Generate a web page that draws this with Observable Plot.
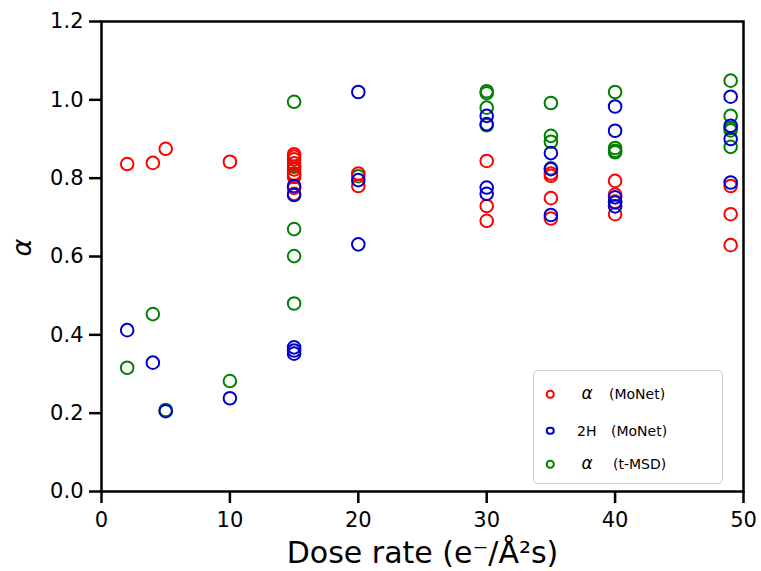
<!DOCTYPE html>
<html><head><meta charset="utf-8">
<script src="https://cdn.jsdelivr.net/npm/d3@7"></script>
<script src="https://cdn.jsdelivr.net/npm/@observablehq/plot@0.6"></script>
<style>
body{margin:0;background:#fff;}
#wrap{position:relative;width:761px;height:571px;font-family:"DejaVu Sans";}
.legend{position:absolute;left:533px;top:370px;width:190px;height:114px;border:1.5px solid #cccccc;border-radius:5px;background:rgba(255,255,255,0.8);box-sizing:border-box;}
.lg{position:absolute;white-space:nowrap;font-size:14px;line-height:1;transform:translate(0,-50%);color:#000;}
.ga{font-style:italic;font-size:17px;transform:translate(-50%,-55%);}
.mk{position:absolute;width:4.5px;height:4.5px;border-radius:50%;border:2px solid;transform:translate(-50%,-50%);}
</style></head>
<body><div id="wrap"></div>
<script>
const xTicks = [0, 10, 20, 30, 40, 50];
const yTicks = [0, 0.2, 0.4, 0.6, 0.8, 1.0, 1.2];
const xLabel = "Dose rate (e\u207B/\u00C5\u00B2s)";
const yLabel = "\u03B1";
const seriesNames = ["\u03B1 (MoNet)", "2H (MoNet)", "\u03B1 (t-MSD)"];
const seriesColors = ["#ff0000", "#0000cd", "#008000"];

const redDose  = [2,4,5,10,15,15,15,15,15,15,15,15,15,20,20,30,30,30,35,35,35,35,40,40,40,40,49,49,49];
const redAlpha = [0.836,0.839,0.875,0.842, 0.861,0.855,0.848,0.838,0.822,0.812,0.803,0.775,0.760, 0.812,0.780, 0.844,0.729,0.691, 0.812,0.806,0.749,0.697, 0.793,0.758,0.740,0.708, 0.780,0.708,0.629];

const blueDose = [2,4,5,10,15,15,15,15,15,20,20,20,30,30,30,30,35,35,35,40,40,40,40,40,49,49,49,49];
const blue2H   = [0.412,0.329,0.205,0.238, 0.780,0.757,0.368,0.360,0.352, 1.020,0.795,0.631, 0.959,0.938,0.776,0.760, 0.864,0.823,0.706, 0.983,0.921,0.751,0.738,0.728, 1.008,0.934,0.900,0.789];

const greenDose  = [2,4,5,10,15,15,15,15,15,15,20,30,30,30,30,35,35,35,35,40,40,40,40,49,49,49,49,49];
const greenAlpha = [0.316,0.453,0.208,0.282, 0.995,0.829,0.808,0.670,0.601,0.480, 0.805, 1.022,1.017,0.980,0.935, 0.992,0.908,0.893,0.825, 1.020,0.877,0.870,0.866, 1.049,0.959,0.928,0.922,0.880];

const toRows = (xs, ys) => xs.map((x, i) => ({x, y: ys[i]}));
const red = toRows(redDose, redAlpha);
const blue = toRows(blueDose, blue2H);
const green = toRows(greenDose, greenAlpha);

const dotOpts = (c) => ({x: "x", y: "y", r: 6.3, stroke: c, strokeWidth: 2, fill: "none"});

const chart = Plot.plot({
  width: 761, height: 571,
  marginLeft: 101, marginRight: 18, marginTop: 21, marginBottom: 80,
  style: {fontFamily: "DejaVu Sans", fontSize: "21px", background: "white", color: "black"},
  x: {domain: [0, 50]},
  y: {domain: [0, 1.2]},
  marks: [
    Plot.dot(green, dotOpts(seriesColors[2])),
    Plot.dot(red, dotOpts(seriesColors[0])),
    Plot.dot(blue, dotOpts(seriesColors[1])),
    Plot.frame({stroke: "black", strokeWidth: 2.5}),
    Plot.axisX({ticks: xTicks, tickSize: 12, tickPadding: 9, strokeWidth: 2.5, label: null, fontSize: 21}),
    Plot.axisY({ticks: yTicks, tickFormat: d3.format(".1f"), tickSize: 12, tickPadding: 6, strokeWidth: 2.5, label: null, fontSize: 21}),
    Plot.text([xLabel], {text: d => d, frameAnchor: "bottom", dy: 71, lineAnchor: "bottom", fontSize: 30}),
    Plot.text([yLabel], {text: d => d, frameAnchor: "left", dx: -79, rotate: -90, fontSize: 27, fontStyle: "italic"})
  ]
});
const wrap = document.getElementById("wrap");
wrap.appendChild(chart);

// legend overlay
const lg = document.createElement("div");
lg.className = "legend";
wrap.appendChild(lg);
const rowsY = [394, 430.7, 464.3];
const parts = [["\u03B1", "(MoNet)", 609], ["2H", "(MoNet)", 611], ["\u03B1", "(t-MSD)", 613]];
parts.forEach((p, i) => {
  const mk = document.createElement("div");
  mk.className = "mk";
  mk.style.left = "550px"; mk.style.top = rowsY[i] + "px";
  mk.style.borderColor = seriesColors[i];
  wrap.appendChild(mk);
  const a = document.createElement("div");
  if (p[0] === "\u03B1") { a.className = "lg ga"; a.style.left = "587px"; }
  else { a.className = "lg"; a.style.left = "577px"; }
  a.style.top = rowsY[i] + "px";
  a.textContent = p[0];
  wrap.appendChild(a);
  const b = document.createElement("div");
  b.className = "lg";
  b.style.left = p[2] + "px"; b.style.top = rowsY[i] + "px";
  b.textContent = p[1];
  wrap.appendChild(b);
});
</script></body></html>
